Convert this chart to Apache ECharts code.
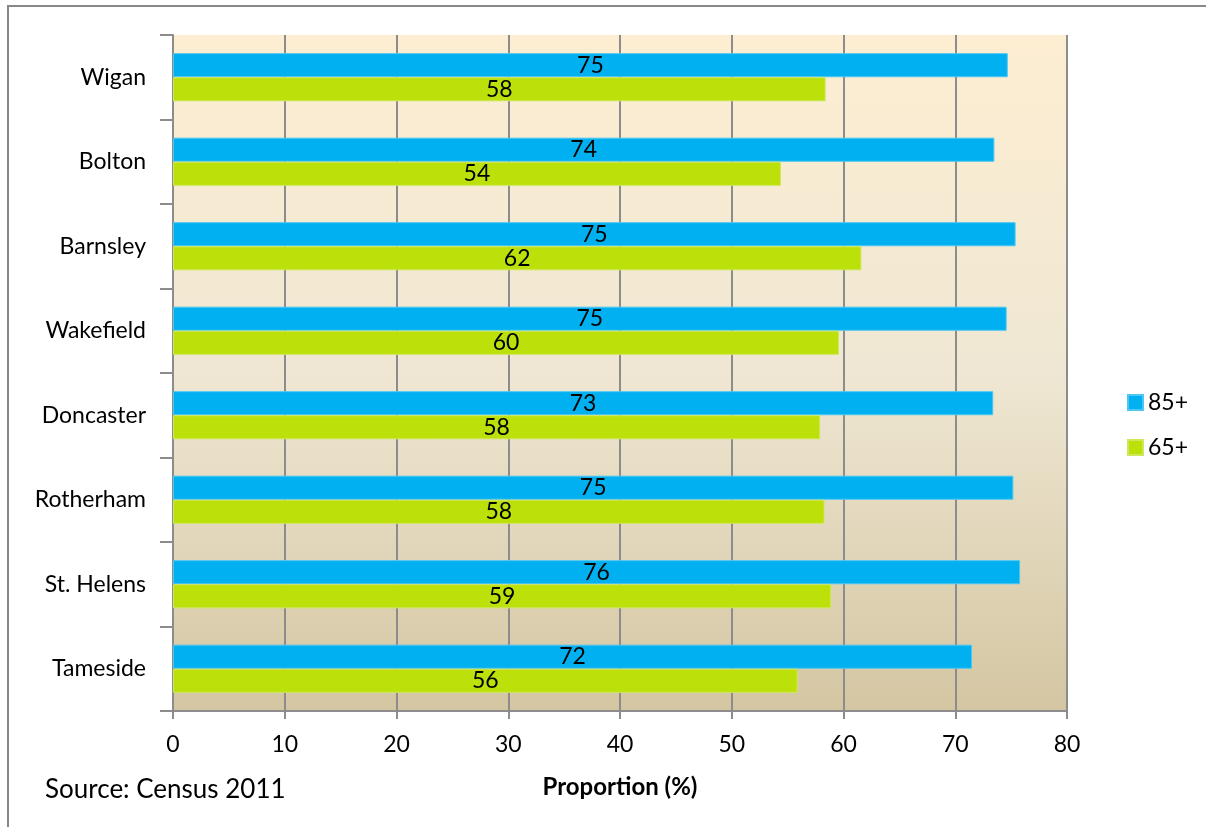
<!DOCTYPE html>
<html><head><meta charset="utf-8">
<script src="https://cdn.jsdelivr.net/npm/echarts@6/dist/echarts.min.js"></script>
<style>html,body{margin:0;padding:0;background:#fff;}#c{width:1206px;height:827px;}</style>
</head><body><div id="c"></div>
<script>
var categories = ['Wigan','Bolton','Barnsley','Wakefield','Doncaster','Rotherham','St. Helens','Tameside'];
var s85 = [74.7, 73.5, 75.4, 74.6, 73.4, 75.2, 75.8, 71.5];
var s65 = [58.4, 54.4, 61.6, 59.6, 57.9, 58.3, 58.9, 55.9];
var seriesNames = ['85+','65+'];
var xTicks = [0,10,20,30,40,50,60,70,80];

var FONT = 'Lato, "Open Sans", sans-serif';
var chart = echarts.init(document.getElementById('c'));
var labelOpt = {show:true, position:'inside', color:'#000', fontSize:23, fontFamily:FONT,
  formatter:function(p){return Math.round(p.value);}};
chart.setOption({
  animation:false,
  textStyle:{fontFamily:FONT},
  graphic:[
    {type:'rect', shape:{x:8,y:6,width:1250,height:900}, style:{fill:'none', stroke:'#888', lineWidth:2}, z:-10},
    {type:'text', left:45, top:777, style:{text:'Source: Census 2011', font:'26px '+FONT, fill:'#000'}}
  ],
  grid:{left:173, right:139, top:35, bottom:116, show:true, borderWidth:0,
    backgroundColor:new echarts.graphic.LinearGradient(0,0,0,1,[{offset:0,color:'#FDEED2'},{offset:0.5,color:'#EFE7D3'},{offset:1,color:'#D4C6A2'}])},
  legend:{orient:'vertical', left:1122, top:386, itemWidth:15, itemHeight:15, itemGap:22,
    icon:'rect', textStyle:{fontSize:23, color:'#000', fontFamily:FONT}, data:seriesNames},
  xAxis:{type:'value', min:xTicks[0], max:xTicks[xTicks.length-1], interval:10,
    name:'Proportion (%)', nameLocation:'middle', nameGap:64,
    nameTextStyle:{fontSize:24, fontWeight:'bold', color:'#000', fontFamily:FONT},
    axisLine:{show:true, lineStyle:{color:'#8c8c8c', width:2}},
    axisTick:{show:true, length:8, lineStyle:{color:'#8c8c8c', width:2}},
    axisLabel:{fontSize:23, color:'#000', margin:22, fontFamily:FONT},
    splitLine:{show:true, lineStyle:{color:'#8c8c8c', width:2}}},
  yAxis:{type:'category', data:categories, inverse:true,
    axisLine:{show:true, lineStyle:{color:'#8c8c8c', width:2}},
    axisTick:{show:true, length:13, lineStyle:{color:'#8c8c8c', width:2}},
    axisLabel:{fontSize:23, color:'#000', margin:27, fontFamily:FONT},
    splitLine:{show:false}},
  series:[
    {name:seriesNames[0], type:'bar', data:s85, barGap:'0%', barCategoryGap:'43%',
      itemStyle:{color:'#00B0F0', borderColor:'#4CC6F2', borderWidth:1}, label:labelOpt},
    {name:seriesNames[1], type:'bar', data:s65, barGap:'0%', barCategoryGap:'43%',
      itemStyle:{color:'#BBE00A', borderColor:'#CDE85A', borderWidth:1}, label:labelOpt}
  ]
});
</script></body></html>
